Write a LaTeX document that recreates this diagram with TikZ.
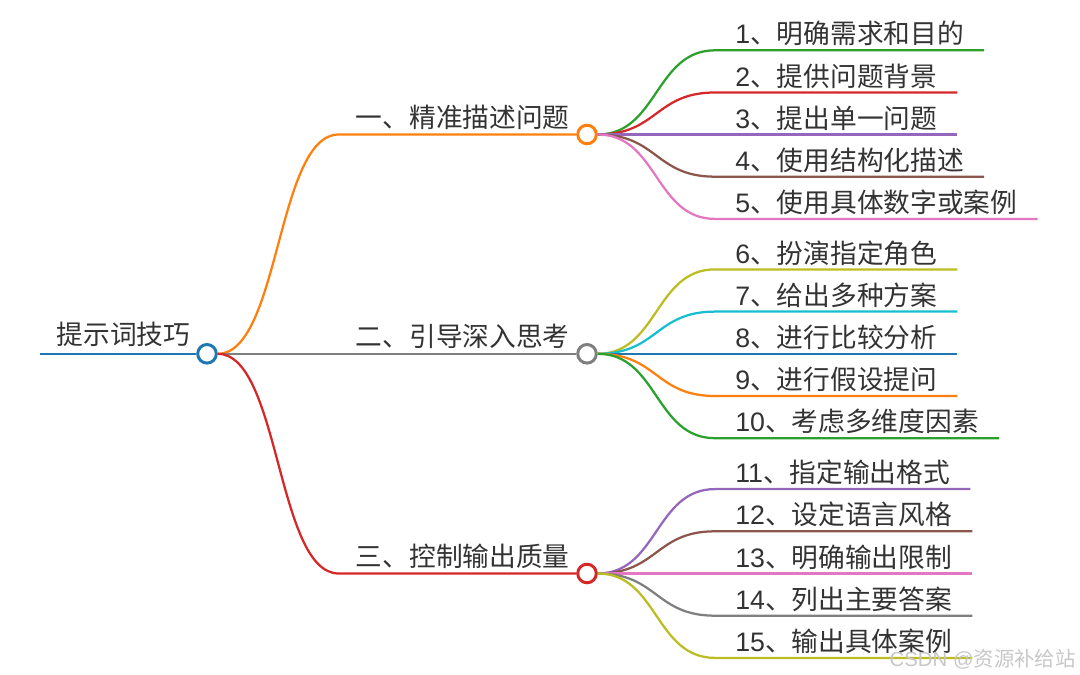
\documentclass[tikz,border=0pt]{standalone}
\usepackage{fontspec}
\setmainfont{Noto Sans CJK SC}
\newfontfamily\latinfont{Liberation Sans}
\newcommand{\nr}[1]{{\latinfont #1}}
\definecolor{cblue}{HTML}{1F77B4}
\definecolor{corange}{HTML}{FF7F0E}
\definecolor{cgreen}{HTML}{2CA02C}
\definecolor{cred}{HTML}{D62728}
\definecolor{cpurple}{HTML}{9467BD}
\definecolor{cbrown}{HTML}{8C564B}
\definecolor{cpink}{HTML}{E377C2}
\definecolor{cgray}{HTML}{7F7F7F}
\definecolor{colive}{HTML}{BCBD22}
\definecolor{ccyan}{HTML}{17BECF}
\definecolor{textgray}{HTML}{333333}

\begin{document}
\begin{tikzpicture}[
  x=0.025cm, y=-0.025cm,
  font=\fontsize{19pt}{23pt}\selectfont,
  dot/.style={circle, draw, fill=white, line width=2.1pt, minimum size=0.465cm, inner sep=0pt},
  rootlabel/.style={anchor=south east, text=textgray, inner xsep=0.41cm, inner ysep=0pt, text depth=6.4pt},
  topic/.style={anchor=south east, text=textgray, inner xsep=0.425cm, inner ysep=0pt, text depth=5pt},
  leaf/.style={anchor=south west, text=textgray, inner xsep=0.5cm, inner ysep=0pt, text depth=4.3pt},
  branch/.style={line width=1.6pt},
  watermark/.style={anchor=east, text=black!22, font=\fontsize{14.5pt}{17pt}\selectfont, inner sep=0pt},
]
  \useasboundingbox (0,0) rectangle (1080,675);

  \node[dot, draw=cblue] (root) at (207,353.8) {};
  \node[rootlabel] (rootlab) at (root.center) {提示词技巧};
  \draw[branch, cblue] (rootlab.south west) -- (root.west);

  \node[dot, draw=corange] (d1) at (587,134.5) {};
  \node[dot, draw=cgray] (d2) at (587,353.8) {};
  \node[dot, draw=cred] (d3) at (587,573.5) {};
  \node[topic] (t1) at (d1.center) {一、精准描述问题};
  \node[topic] (t2) at (d2.center) {二、引导深入思考};
  \node[topic] (t3) at (d3.center) {三、控制输出质量};

  \draw[branch, corange] (root.east) .. controls +(62,0) and +(-62,0) .. (t1.south west) -- (d1.west);
  \draw[branch, cgray] (root.east) -- (t2.south west) -- (d2.west);
  \draw[branch, cred] (root.east) .. controls +(62,0) and +(-62,0) .. (t3.south west) -- (d3.west);

  \node[leaf] (l1) at (715,50.3) {\nr{1}、明确需求和目的};
  \node[leaf] (l2) at (715,92.5) {\nr{2}、提供问题背景};
  \node[leaf] (l3) at (715,134.5) {\nr{3}、提出单一问题};
  \node[leaf] (l4) at (715,176.7) {\nr{4}、使用结构化描述};
  \node[leaf] (l5) at (715,218.9) {\nr{5}、使用具体数字或案例};

  \draw[branch, cgreen] (d1.east) .. controls +(60,0) and +(-60,0) .. (l1.south west) -- (l1.south east);
  \draw[branch, cred] (d1.east) .. controls +(60,0) and +(-60,0) .. (l2.south west) -- (l2.south east);
  \draw[branch, cpurple] (d1.east) -- (l3.south west) -- (l3.south east);
  \draw[branch, cbrown] (d1.east) .. controls +(60,0) and +(-60,0) .. (l4.south west) -- (l4.south east);
  \draw[branch, cpink] (d1.east) .. controls +(60,0) and +(-60,0) .. (l5.south west) -- (l5.south east);

  \node[leaf] (l6) at (715,269.4) {\nr{6}、扮演指定角色};
  \node[leaf] (l7) at (715,311.6) {\nr{7}、给出多种方案};
  \node[leaf] (l8) at (715,353.8) {\nr{8}、进行比较分析};
  \node[leaf] (l9) at (715,396.0) {\nr{9}、进行假设提问};
  \node[leaf] (l10) at (715,438.2) {\nr{10}、考虑多维度因素};

  \draw[branch, colive] (d2.east) .. controls +(60,0) and +(-60,0) .. (l6.south west) -- (l6.south east);
  \draw[branch, ccyan] (d2.east) .. controls +(60,0) and +(-60,0) .. (l7.south west) -- (l7.south east);
  \draw[branch, cblue] (d2.east) -- (l8.south west) -- (l8.south east);
  \draw[branch, corange] (d2.east) .. controls +(60,0) and +(-60,0) .. (l9.south west) -- (l9.south east);
  \draw[branch, cgreen] (d2.east) .. controls +(60,0) and +(-60,0) .. (l10.south west) -- (l10.south east);

  \node[leaf] (l11) at (715,489.1) {\nr{11}、指定输出格式};
  \node[leaf] (l12) at (715,531.3) {\nr{12}、设定语言风格};
  \node[leaf] (l13) at (715,573.5) {\nr{13}、明确输出限制};
  \node[leaf] (l14) at (715,615.7) {\nr{14}、列出主要答案};
  \node[leaf] (l15) at (715,657.9) {\nr{15}、输出具体案例};

  \draw[branch, cpurple] (d3.east) .. controls +(60,0) and +(-60,0) .. (l11.south west) -- (l11.south east);
  \draw[branch, cbrown] (d3.east) .. controls +(60,0) and +(-60,0) .. (l12.south west) -- (l12.south east);
  \draw[branch, cpink] (d3.east) -- (l13.south west) -- (l13.south east);
  \draw[branch, cgray] (d3.east) .. controls +(60,0) and +(-60,0) .. (l14.south west) -- (l14.south east);
  \draw[branch, colive] (d3.east) .. controls +(60,0) and +(-60,0) .. (l15.south west) -- (l15.south east);

  \node[watermark] (mark) at (1076,659) {\nr{CSDN @}资源补给站};
\end{tikzpicture}
\end{document}
